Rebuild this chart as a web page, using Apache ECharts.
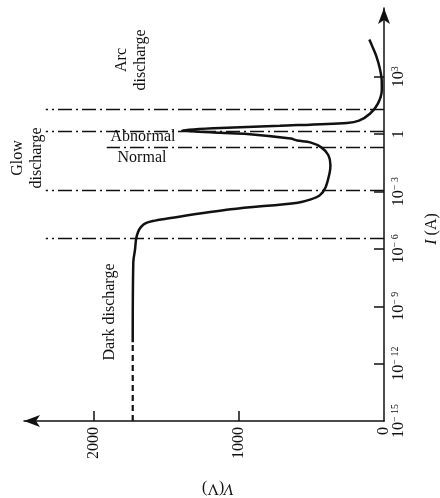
<!DOCTYPE html>
<html>
<head>
<meta charset="utf-8">
<script src="https://cdn.jsdelivr.net/npm/echarts@6/dist/echarts.min.js"></script>
<style>
html,body{margin:0;padding:0;background:#fff;}
#c{width:440px;height:498px;}
</style>
</head>
<body>
<div id="c"></div>
<script>
// Tick values
const vTickLabels = [0, 1000, 2000];          // voltage axis (V)
const vTickMarks = [1000, 2000];
const iExpLabels = [-15, -12, -9, -6, -3, 0, 3]; // log10 of current (A)
const iExpMarks = [-12, -9, -6, -3, 0, 3];

// Dashed initial part of the curve (V, log10 I)
const darkDashV = [1731, 1731];
const darkDashLogI = [-15, -10.88];

// Solid V–I characteristic (V, log10 I)
const curveV = [1731, 1727, 1715, 1708, 1695, 1675, 1641, 1593, 1510, 1056, 594, 504, 443, 402, 375, 369, 383, 432, 508, 598, 643, 943, 1130, 1390, 1171, 717, 255, 172, 97, 42, 15, 16, 30, 52, 80, 101];
const curveLogI = [-10.88, -6.70, -6.02, -5.49, -5.13, -4.86, -4.65, -4.54, -4.43, -3.93, -3.58, -3.41, -3.20, -2.77, -2.04, -1.62, -1.10, -0.69, -0.43, -0.33, -0.23, 0.01, 0.07, 0.20, 0.31, 0.44, 0.59, 0.71, 1.07, 1.60, 2.33, 2.85, 3.48, 4.06, 4.58, 4.95];

// Regime boundaries (dash-dot lines): log10 I and the voltage where each line starts
const boundaryLogI = [1.30, 0.17, -0.68, -2.93, -5.42];
const boundaryVStart = [2330, 2330, 1910, 2330, 2330];

const ink = '#111';
const serif = '"Liberation Serif", "DejaVu Serif", serif';

const chart = echarts.init(document.getElementById('c'), null, {renderer: 'canvas'});

const pair = (a, b) => a.map((v, i) => [v, b[i]]);

const option = {
  animation: false,
  backgroundColor: '#fff',
  grid: {left: 24, right: 56, top: 8, bottom: 77, containLabel: false, outerBoundsMode: 'none'},
  xAxis: {
    type: 'value', inverse: true, min: 0, max: 2480, position: 'bottom',
    axisLine: {show: true, onZero: false, lineStyle: {color: ink, width: 1.5}, symbol: ['arrow', 'none'], symbolSize: [9, 16]},
    axisTick: {show: true, inside: true, length: 10, customValues: vTickMarks, lineStyle: {color: ink, width: 1.5}},
    axisLabel: {show: true, customValues: vTickLabels, rotate: 90, margin: 6, fontFamily: serif, fontSize: 16, color: ink,
      formatter: function (v) { return String(v); }},
    splitLine: {show: false}
  },
  yAxis: {
    type: 'value', min: -15, max: 6.6, position: 'right',
    axisLine: {show: true, onZero: false, lineStyle: {color: ink, width: 1.5}, symbol: ['none', 'arrow'], symbolSize: [9, 16]},
    axisTick: {show: true, inside: true, length: 10, customValues: iExpMarks, lineStyle: {color: ink, width: 1.5}},
    axisLabel: {
      show: true, customValues: iExpLabels, rotate: 90, margin: 6, color: ink,
      formatter: function (v) {
        if (v === 0) return '{b|1}';
        return '{b|10}{s|' + (v < 0 ? '\u2212 ' : '') + Math.abs(v) + '}';
      },
      rich: {
        b: {fontFamily: serif, fontSize: 16, color: ink, lineHeight: 18},
        s: {fontFamily: serif, fontSize: 10, color: ink, verticalAlign: 'top', lineHeight: 18}
      }
    },
    splitLine: {show: false}
  },
  series: [
    {
      type: 'line', data: pair(darkDashV, darkDashLogI), showSymbol: false,
      lineStyle: {color: ink, width: 2.2, type: [6, 4]}, silent: true
    },
    {
      type: 'line', data: pair(curveV, curveLogI), showSymbol: false, smooth: 0.3,
      lineStyle: {color: ink, width: 2.5}, silent: true,
      markLine: {
        silent: true, symbol: ['none', 'none'], label: {show: false},
        lineStyle: {color: ink, width: 1.3, type: [14, 4, 2, 4]},
        data: boundaryLogI.map((y, i) => [{coord: [0, y]}, {coord: [boundaryVStart[i], y]}])
      }
    }
  ],
  graphic: [
    {type: 'text', x: 131, y: 60, rotation: Math.PI / 2,
      style: {text: 'Arc\ndischarge', font: '16px ' + serif, fill: ink, align: 'center', verticalAlign: 'middle', lineHeight: 19}},
    {type: 'text', x: 27, y: 158, rotation: Math.PI / 2,
      style: {text: 'Glow\ndischarge', font: '16px ' + serif, fill: ink, align: 'center', verticalAlign: 'middle', lineHeight: 19}},
    {type: 'text', x: 143, y: 137,
      style: {text: 'Abnormal', font: '16px ' + serif, fill: ink, align: 'center', verticalAlign: 'middle'}},
    {type: 'text', x: 142, y: 158,
      style: {text: 'Normal', font: '16px ' + serif, fill: ink, align: 'center', verticalAlign: 'middle'}},
    {type: 'text', x: 110, y: 312, rotation: Math.PI / 2,
      style: {text: 'Dark discharge', font: '16px ' + serif, fill: ink, align: 'center', verticalAlign: 'middle'}},
    {type: 'text', x: 432, y: 229, rotation: Math.PI / 2,
      style: {text: '{i|I} (A)', font: '16px ' + serif, fill: ink, align: 'center', verticalAlign: 'middle',
        rich: {i: {fontStyle: 'italic', fontFamily: serif, fontSize: 16, fill: ink}}}},
    {type: 'text', x: 218, y: 488, rotation: Math.PI,
      style: {text: '{i|V}(V)', font: '16px ' + serif, fill: ink, align: 'center', verticalAlign: 'middle',
        rich: {i: {fontStyle: 'italic', fontFamily: serif, fontSize: 16, fill: ink}}}}
  ]
};
chart.setOption(option);
</script>
</body>
</html>
